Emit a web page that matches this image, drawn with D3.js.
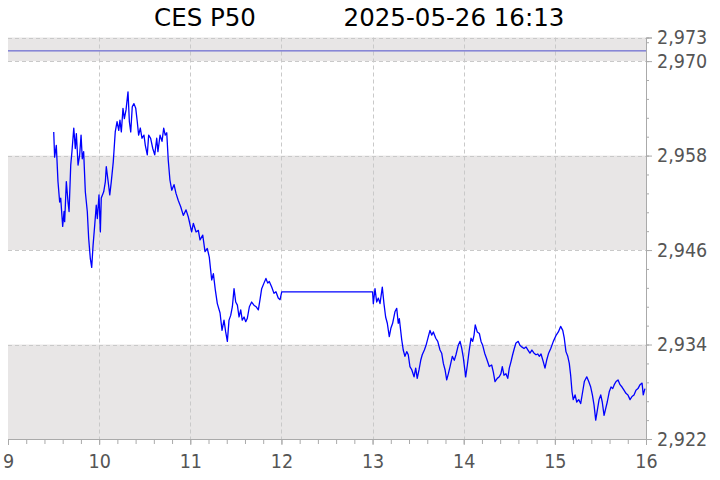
<!DOCTYPE html>
<html>
<head>
<meta charset="utf-8">
<script src="https://cdn.jsdelivr.net/npm/d3@7"></script>
<style>
  body { margin: 0; background: #fff; }
  svg { display: block; font-family: "DejaVu Sans", sans-serif; }
</style>
</head>
<body>
<svg id="chart" width="720" height="480"></svg>
<script>
// minutes after 09:00 and index level
const minutes = [
  30.1, 30.7, 31.8, 32.9, 34.0, 34.7, 36.0, 36.9, 37.3, 38.4, 39.5, 40.2, 41.3, 42.1, 43.3, 44.3, 45.0, 46.1, 47.2, 48.1,
  48.9, 49.8, 50.9, 52.2, 53.1, 54.2, 55.1, 56.0, 57.1, 58.1, 58.8, 59.9, 60.8, 61.4, 63.0, 64.1, 64.7, 65.8, 67.0, 68.0,
  69.3, 70.6, 71.8, 72.9, 73.7, 74.6, 75.7, 76.6, 77.7, 79.0, 79.9, 80.8, 81.8, 82.9, 84.1, 85.1, 86.0, 87.1, 88.2, 89.5,
  90.4, 91.7, 92.6, 93.9, 95.3, 96.6, 97.9, 98.7, 100.1, 101.4, 102.5, 103.5, 104.5, 105.5, 106.6, 107.8, 109.3, 110.6, 112.1, 113.7,
  115.4, 117.2, 118.7, 120.9, 122.0, 123.8, 125.3, 126.4, 128.2, 129.7, 131.2, 132.5, 134.1, 135.2, 136.5, 137.8, 139.6, 140.9, 142.2, 143.3,
  144.4, 145.5, 146.6, 147.7, 148.8, 149.9, 151.0, 152.1, 153.2, 154.2, 155.4, 156.5, 157.5, 158.9, 160.4, 161.9, 163.3, 164.8, 165.9, 167.0,
  168.5, 169.8, 171.0, 172.0, 173.6, 175.1, 176.4, 177.9, 179.1, 180.2,
  240.0, 240.5, 241.6, 242.7, 243.8, 244.9, 246.4, 247.5, 248.6, 249.7, 251.0, 252.1, 253.2, 254.8, 255.9, 256.9, 257.6, 259.2, 260.2, 261.3,
  262.5, 263.5, 264.6, 265.8, 267.3, 268.4, 269.4, 270.6, 271.7, 272.7, 274.1, 275.2, 276.7, 277.8, 278.9, 280.0, 281.6, 282.9, 284.4, 285.5,
  286.6, 287.7, 288.8, 289.9, 291.0, 292.5, 293.8, 294.9, 296.4, 297.6, 298.7, 299.7, 301.3, 302.4, 303.5, 304.8, 305.9, 306.8, 307.6, 308.9,
  310.3, 311.4, 312.5, 313.8, 315.1, 316.8, 318.4, 319.5, 320.6, 322.1, 323.4, 324.5, 325.4, 326.5, 327.8, 329.0, 330.0, 331.1, 332.2, 333.3,
  334.4, 335.9, 337.0, 338.2, 339.7, 341.0, 342.3, 343.6, 344.9, 346.3, 347.6, 348.7, 349.8, 350.9, 352.4, 353.5, 354.6, 355.9, 357.3, 359.0,
  360.9, 362.3, 363.8, 365.2, 366.2, 367.3, 368.5, 369.5, 370.4, 371.3, 372.1, 373.3, 374.4, 375.7, 377.0, 378.3, 379.4, 381.0, 382.3, 383.6,
  384.7, 385.8, 386.9, 388.0, 389.1, 390.2, 391.2, 392.4, 393.5, 394.5, 395.8, 397.0, 398.1, 399.1, 400.3, 401.6, 402.9, 404.2, 405.5, 406.8,
  408.1, 409.5, 410.8, 412.1, 413.4, 414.7, 416.1, 417.4, 418.2, 419.3
]
const prices = [
  2961.0, 2957.8, 2959.3, 2954.7, 2952.1, 2952.6, 2949.0, 2950.9, 2949.6, 2954.7, 2952.1, 2950.9, 2956.8, 2958.5, 2961.5, 2958.9, 2960.8, 2956.8, 2958.1, 2960.6,
  2957.6, 2958.5, 2953.4, 2950.9, 2947.5, 2944.9, 2943.8, 2946.6, 2949.2, 2951.7, 2950.0, 2953.0, 2948.3, 2952.6, 2953.4, 2954.7, 2956.6, 2954.9, 2953.0, 2954.7,
  2957.2, 2961.0, 2962.3, 2961.2, 2962.5, 2961.0, 2964.0, 2962.7, 2963.8, 2966.1, 2962.3, 2961.0, 2964.2, 2964.6, 2964.0, 2962.3, 2960.6, 2961.5, 2960.2, 2960.6,
  2959.3, 2958.1, 2960.6, 2960.2, 2958.9, 2958.1, 2960.2, 2958.5, 2960.6, 2959.8, 2961.5, 2960.6, 2960.9, 2957.4, 2954.9, 2953.6, 2954.3, 2953.2, 2952.3, 2951.5,
  2950.4, 2951.1, 2950.2, 2948.3, 2949.4, 2948.3, 2948.5, 2947.3, 2947.9, 2945.8, 2946.2, 2945.1, 2942.2, 2943.0, 2940.9, 2939.2, 2938.0, 2935.8, 2937.1, 2935.6,
  2934.4, 2937.1, 2937.7, 2938.8, 2941.1, 2939.4, 2939.0, 2937.5, 2938.4, 2937.1, 2937.5, 2936.9, 2937.3, 2938.8, 2939.4, 2939.0, 2938.8, 2938.4, 2939.7, 2941.1,
  2941.8, 2942.4, 2941.8, 2942.0, 2941.3, 2940.5, 2940.7, 2939.9, 2939.7, 2940.7,
  2940.7, 2939.2, 2941.1, 2939.4, 2939.9, 2939.2, 2941.3, 2939.2, 2937.5, 2936.7, 2935.0, 2936.1, 2936.7, 2938.2, 2938.6, 2936.7, 2937.3, 2934.6, 2933.3, 2932.5,
  2933.1, 2932.7, 2931.2, 2930.8, 2929.9, 2931.0, 2929.7, 2930.8, 2932.0, 2932.7, 2933.3, 2933.9, 2935.0, 2935.8, 2935.2, 2935.6, 2934.8, 2934.4, 2933.3, 2932.9,
  2931.6, 2930.8, 2929.5, 2930.3, 2931.2, 2932.5, 2932.0, 2932.7, 2933.9, 2934.4, 2933.5, 2932.4, 2929.9, 2931.4, 2933.1, 2934.8, 2934.4, 2935.2, 2936.5, 2935.6,
  2935.4, 2934.4, 2933.9, 2932.9, 2932.2, 2931.2, 2931.4, 2930.5, 2929.3, 2929.7, 2929.9, 2930.3, 2931.2, 2930.1, 2930.3, 2929.7, 2931.0, 2931.8, 2932.7, 2933.5,
  2934.2, 2934.4, 2933.9, 2933.7, 2933.5, 2933.7, 2933.3, 2932.9, 2933.3, 2932.9, 2932.7, 2932.8, 2932.5, 2932.8, 2931.8, 2931.0, 2932.0, 2932.9, 2933.5, 2934.4,
  2935.2, 2935.6, 2936.3, 2935.8, 2934.8, 2933.1, 2932.5, 2931.6, 2930.1, 2928.0, 2927.0, 2927.6, 2926.7, 2927.0, 2926.5, 2928.0, 2929.3, 2929.9, 2929.3, 2928.6,
  2927.6, 2926.3, 2924.4, 2925.7, 2927.0, 2927.6, 2926.7, 2925.0, 2925.9, 2926.7, 2928.0, 2928.6, 2928.4, 2928.9, 2929.3, 2929.5, 2928.9, 2928.6, 2928.2, 2927.8,
  2927.6, 2927.0, 2927.4, 2927.6, 2928.2, 2928.4, 2928.9, 2929.1, 2927.6, 2928.4
]
const refLevel = 2971.3
const bands = [[2922, 2934], [2946, 2958], [2970, 2973]]
const yTicks = [2922, 2934, 2946, 2958, 2970, 2973]
const xTicks = [9, 10, 11, 12, 13, 14, 15, 16]
const titleName = 'CES P50'
const titleStamp = '2025-05-26 16:13'

const svg = d3.select('#chart')
const m = { left: 8, right: 646, top: 37.5, bottom: 439 }

const x = d3.scaleLinear().domain([9, 16]).range([m.left, m.right])
const y = d3.scaleLinear().domain([2922, 2973]).range([m.bottom, m.top])

let series = minutes.map((d, i) => ({ t: 9 + d / 60, v: prices[i] }))

// shaded bands
svg.append('g')
  .selectAll('rect')
  .data(bands)
  .enter().append('rect')
    .attr('x', m.left)
    .attr('width', m.right - m.left)
    .attr('y', d => y(d[1]))
    .attr('height', d => y(d[0]) - y(d[1]))
    .attr('fill', '#e8e6e6')

// grid
let grid = svg.append('g')
  .attr('stroke', '#c9c9c9')
  .attr('stroke-dasharray', '4,3')
  .attr('stroke-width', 1)
grid.selectAll('.gy')
  .data(yTicks.filter(d => d > 2922))
  .enter().append('line')
    .attr('x1', m.left).attr('x2', m.right)
    .attr('y1', d => Math.round(y(d)) + 0.5)
    .attr('y2', d => Math.round(y(d)) + 0.5)
grid.selectAll('.gx')
  .data(xTicks.filter(d => d > 9 && d < 16))
  .enter().append('line')
    .attr('y1', m.top).attr('y2', m.bottom)
    .attr('x1', d => Math.round(x(d)) + 0.5)
    .attr('x2', d => Math.round(x(d)) + 0.5)

// reference level
svg.append('line')
  .attr('x1', m.left).attr('x2', m.right)
  .attr('y1', y(refLevel)).attr('y2', y(refLevel))
  .attr('stroke', '#4d4dcc')
  .attr('stroke-width', 1)

// price line
svg.append('path')
  .datum(series)
  .attr('fill', 'none')
  .attr('stroke', '#0000ff')
  .attr('stroke-width', 1.3)
  .attr('stroke-linejoin', 'round')
  .attr('d', d3.line().x(d => x(d.t)).y(d => y(d.v)))

// axes
let xAxis = d3.axisBottom(x)
  .tickValues(xTicks)
  .tickFormat(d3.format('d'))
  .tickSize(6)
  .tickPadding(9)
let xMinor = d3.axisBottom(x)
  .tickValues(d3.range(9, 16.001, 0.2))
  .tickFormat('')
  .tickSize(5)

let yAxis = d3.axisRight(y)
  .tickValues(yTicks)
  .tickFormat(d3.format(','))
  .tickSize(6)
  .tickPadding(5)
let yMinor = d3.axisRight(y)
  .tickValues(d3.range(2922, 2973, 2.4))
  .tickFormat('')
  .tickSize(3)

function style(g) {
  g.select('.domain').attr('stroke', '#aaa')
  g.selectAll('.tick line').attr('stroke', '#aaa')
  g.selectAll('.tick text')
    .attr('fill', '#555')
    .style('font-size', '19.5px')
    .style('font-family', '"DejaVu Sans Condensed", "DejaVu Sans", sans-serif')
    .style('font-stretch', 'condensed')
}

svg.append('g').attr('transform', `translate(0,${m.bottom})`).call(xMinor).call(style)
svg.append('g').attr('transform', `translate(0,${m.bottom})`).call(xAxis).call(style)
svg.append('g').attr('transform', `translate(${m.right},0)`).call(yMinor).call(style)
svg.append('g').attr('transform', `translate(${m.right},0)`).call(yAxis).call(style)

// title
svg.append('text')
  .attr('x', 205).attr('y', 26)
  .attr('text-anchor', 'middle')
  .style('font-size', '24.5px')
  .text(titleName)
svg.append('text')
  .attr('x', 454).attr('y', 26)
  .attr('text-anchor', 'middle')
  .style('font-size', '24.5px')
  .text(titleStamp)
</script>
</body>
</html>
